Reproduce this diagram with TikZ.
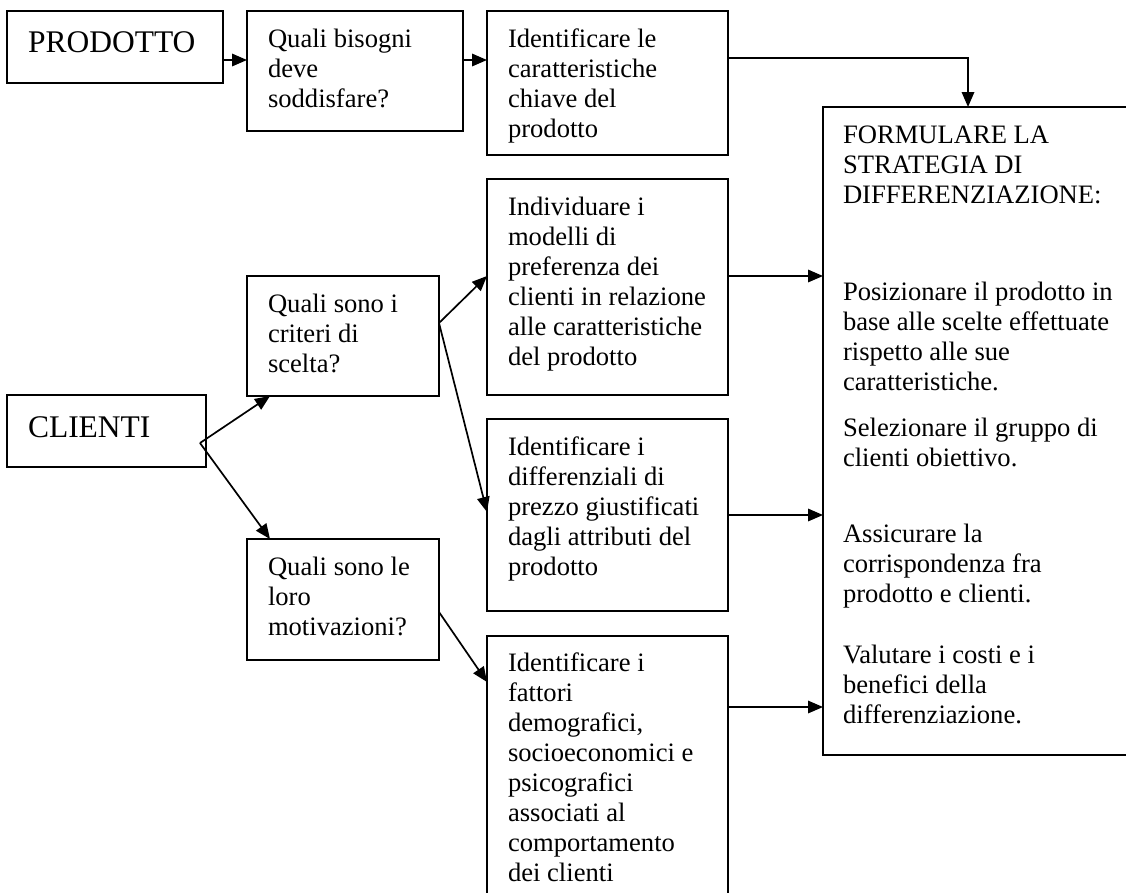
\documentclass[tikz,border=0pt]{standalone}
\usepackage{fontspec}
\setmainfont{Liberation Serif}
\usetikzlibrary{arrows.meta,calc}

\tikzset{
  frame/.style={draw, line width=1.7pt, rectangle, inner sep=0pt, outer sep=0pt, anchor=north west},
  boxtext/.style={anchor=north west, inner sep=0pt, outer sep=0pt, align=left,
    font=\fontsize{26.6pt}{30pt}\selectfont},
  bigtext/.style={boxtext, font=\fontsize{31.5pt}{36pt}\selectfont},
  link/.style={line width=1.7pt, -{Triangle[length=15pt,width=12.5pt]}},
}

\begin{document}
\begin{tikzpicture}[x={(1pt,0pt)}, y={(0pt,-1pt)}]
\useasboundingbox (0,0) rectangle (1126,892);

% boxes
\node[frame, minimum width=216pt, minimum height=72pt]  (prod)  at (7,11) {};
\node[frame, minimum width=216pt, minimum height=120pt] (bis)   at (247,11) {};
\node[frame, minimum width=241pt, minimum height=144pt] (ident) at (487,11) {};
\node[frame, minimum width=199pt, minimum height=72pt]  (cli)   at (7,395) {};
\node[frame, minimum width=192pt, minimum height=120pt] (crit)  at (247,276) {};
\node[frame, minimum width=192pt, minimum height=121pt] (mot)   at (247,539) {};
\node[frame, minimum width=241pt, minimum height=216pt] (ind)   at (487,179) {};
\node[frame, minimum width=241pt, minimum height=192pt] (dif)   at (487,419) {};
\node[frame, minimum width=241pt, minimum height=270pt] (fat)   at (487,636) {};
\node[frame, minimum width=310pt, minimum height=648pt] (form)  at (823,107) {};

% texts
\node[bigtext] (prodT) at ($(prod.north west)+(21,15.8)$) {\strut PRODOTTO};
\node[bigtext] (cliT)  at ($(cli.north west)+(21,16.8)$)  {\strut CLIENTI};
\node[boxtext] (bisT)  at ($(bis.north west)+(21,15)$)
  {\strut Quali bisogni\\ deve\\ soddisfare?};
\node[boxtext] (identT) at ($(ident.north west)+(21,15)$)
  {\strut Identificare le\\ caratteristiche\\ chiave del\\ prodotto};
\node[boxtext] (critT) at ($(crit.north west)+(21,15)$)
  {\strut Quali sono i\\ criteri di\\ scelta?};
\node[boxtext] (motT) at ($(mot.north west)+(21,15)$)
  {\strut Quali sono le\\ loro\\ motivazioni?};
\node[boxtext] (indT) at ($(ind.north west)+(21,15)$)
  {\strut Individuare i\\ modelli di\\ preferenza dei\\ clienti in relazione\\ alle caratteristiche\\ del prodotto};
\node[boxtext] (difT) at ($(dif.north west)+(21,15)$)
  {\strut Identificare i\\ differenziali di\\ prezzo giustificati\\ dagli attributi del\\ prodotto};
\node[boxtext] (fatT) at ($(fat.north west)+(21,14)$)
  {\strut Identificare i\\ fattori\\ demografici,\\ socioeconomici e\\ psicografici\\ associati al\\ comportamento\\ dei clienti};
\node[boxtext] (formT) at ($(form.north west)+(20,15)$)
  {\strut FORMULARE LA\\ STRATEGIA DI\\ DIFFERENZIAZIONE:\\[67pt]
   Posizionare il prodotto in\\ base alle scelte effettuate\\ rispetto alle sue\\ caratteristiche.\\[16pt]
   Selezionare il gruppo di\\ clienti obiettivo.\\[46pt]
   Assicurare la\\ corrispondenza fra\\ prodotto e clienti.\\[31pt]
   Valutare i costi e i\\ benefici della\\ differenziazione.};

% connectors
\draw[link] ($(prod.north east)+(0,49)$) -- ($(bis.north west)+(0,49)$);
\draw[link] ($(bis.north east)+(0,49)$) -- ($(ident.north west)+(0,49)$);
\draw[link] ($(ident.north east)+(0,47)$) -| ($(form.north west)+(145,0)$);

\coordinate (cfork) at ($(cli.north east)+(-6,48)$);
\draw[link] (cfork) -- ($(crit.south west)+(23,0)$);
\draw[link] (cfork) -- ($(mot.north west)+(23,0)$);

\coordinate (qfork) at ($(crit.north east)+(0,47)$);
\draw[link] (qfork) -- ($(ind.north west)+(0,97)$);
\draw[link] (qfork) -- ($(dif.north west)+(0,93)$);

\draw[link] ($(mot.north east)+(0,73)$) -- ($(fat.north west)+(0,46)$);

\coordinate (indout) at ($(ind.north east)+(0,97)$);
\coordinate (difout) at ($(dif.north east)+(0,96)$);
\coordinate (fatout) at ($(fat.north east)+(0,71)$);
\draw[link] (indout) -- (indout -| form.west);
\draw[link] (difout) -- (difout -| form.west);
\draw[link] (fatout) -- (fatout -| form.west);
\end{tikzpicture}
\end{document}
